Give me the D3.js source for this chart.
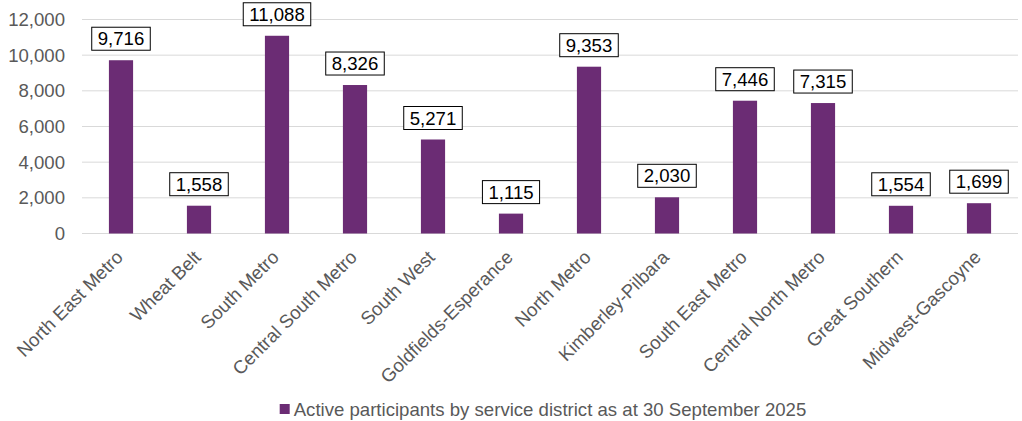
<!DOCTYPE html>
<html>
<head>
<meta charset="utf-8">
<script src="https://cdn.jsdelivr.net/npm/d3@7"></script>
<style>
  body { margin: 0; background: #fff; }
  text { font-family: "Liberation Sans", Arial, sans-serif; }
</style>
</head>
<body>
<div id="chart"></div>
<script>
// district names and counts
var districts = ["North East Metro", "Wheat Belt", "South Metro", "Central South Metro", "South West",
  "Goldfields-Esperance", "North Metro", "Kimberley-Pilbara", "South East Metro", "Central North Metro",
  "Great Southern", "Midwest-Gascoyne"];
var participants = [9716, 1558, 11088, 8326, 5271, 1115, 9353, 2030, 7446, 7315, 1554, 1699];
var yTicks = [0, 2000, 4000, 6000, 8000, 10000, 12000];
var legendLabel = "Active participants by service district as at 30 September 2025";

var width = 1022, height = 421;
var margin = {top: 19.5, right: 4, bottom: 187.5, left: 82};
var innerW = width - margin.left - margin.right,
    innerH = height - margin.top - margin.bottom;

var barColor = "#6b2c74";
var fontSize = "18.6px";
var format = d3.format(",");

var svg = d3.select("#chart")
    .append("svg")
    .attr("width", width)
    .attr("height", height);

var g = svg.append("g")
    .attr("transform", "translate(" + margin.left + "," + margin.top + ")");

var x = d3.scaleBand()
    .domain(districts)
    .range([0, innerW])
    .paddingInner(0.69)
    .paddingOuter(0.345);

var y = d3.scaleLinear()
    .domain([0, 12000])
    .range([innerH, 0]);

// gridlines
g.append("g")
    .selectAll("line")
    .data(yTicks)
  .enter().append("line")
    .attr("x1", 0)
    .attr("x2", innerW)
    .attr("y1", function(d) { return y(d); })
    .attr("y2", function(d) { return y(d); })
    .style("stroke", "#d9d9d9")
    .style("stroke-width", 1);

// y axis labels
var yAxis = d3.axisLeft(y).tickValues(yTicks).tickFormat(format).tickSize(0).tickPadding(17);
g.append("g")
    .call(yAxis)
    .call(function(a) { a.select(".domain").remove(); })
    .selectAll("text")
    .style("font-size", fontSize)
    .style("fill", "#595959");

// bars
var data = districts.map(function(d, i) { return {name: d, value: participants[i]}; });

g.append("g")
    .selectAll("rect")
    .data(data)
  .enter().append("rect")
    .attr("x", function(d) { return x(d.name); })
    .attr("width", x.bandwidth())
    .attr("y", function(d) { return y(d.value); })
    .attr("height", function(d) { return innerH - y(d.value); })
    .style("fill", barColor);

// value labels in boxes
var labels = g.append("g")
    .selectAll("g")
    .data(data)
  .enter().append("g")
    .attr("transform", function(d) {
      return "translate(" + (x(d.name) + x.bandwidth() / 2) + "," + (y(d.value) - 21.5) + ")";
    });

labels.append("text")
    .attr("text-anchor", "middle")
    .attr("dy", "0.35em")
    .style("font-size", fontSize)
    .style("fill", "#000")
    .text(function(d) { return format(d.value); });

labels.each(function() {
  var grp = d3.select(this);
  var bb = grp.select("text").node().getBBox();
  grp.insert("rect", "text")
    .attr("x", bb.x - 6)
    .attr("y", -11.5)
    .attr("width", bb.width + 12)
    .attr("height", 23)
    .style("fill", "#fff")
    .style("stroke", "#000")
    .style("stroke-width", 1);
});

// x axis labels
var xAxis = d3.axisBottom(x).tickSize(0).tickPadding(0);
g.append("g")
    .attr("transform", "translate(0," + innerH + ")")
    .call(xAxis)
    .call(function(a) { a.select(".domain").remove(); })
    .selectAll("text")
    .style("font-size", fontSize)
    .style("fill", "#595959")
    .attr("text-anchor", "end")
    .attr("dy", null)
    .attr("y", 0)
    .attr("transform", "translate(3,25) rotate(-45)");

// legend
var legend = svg.append("g");
var legText = legend.append("text")
    .attr("x", 14)
    .attr("y", 0)
    .attr("dy", "0.35em")
    .style("font-size", fontSize)
    .style("fill", "#595959")
    .text(legendLabel);
legend.append("rect")
    .attr("x", 0)
    .attr("y", -5)
    .attr("width", 10)
    .attr("height", 10)
    .style("fill", barColor);
var lw = 14 + legText.node().getComputedTextLength();
legend.attr("transform", "translate(" + (543 - lw / 2) + ",409)");
</script>
</body>
</html>
